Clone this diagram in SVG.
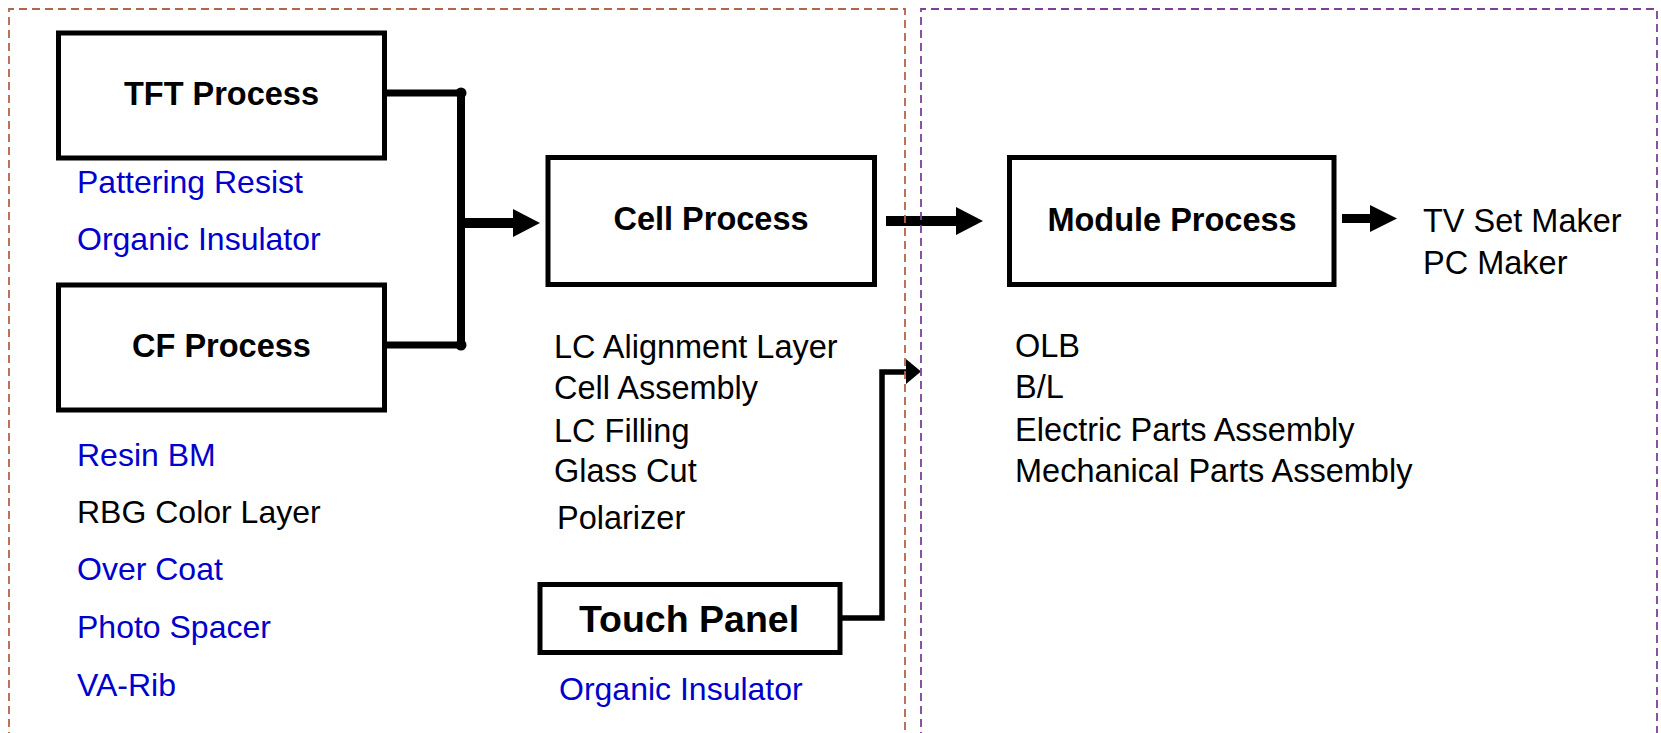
<svg xmlns="http://www.w3.org/2000/svg" width="1661" height="733" viewBox="0 0 1661 733">
  <style>
    .box { fill: #ffffff; stroke: #000000; stroke-width: 5; }
    .title { font-family: "Liberation Sans", Arial, sans-serif; font-weight: bold; font-size: 32.5px; fill: #000000; text-anchor: middle; }
    .big { font-size: 37.5px; }
    .item { font-family: "Liberation Sans", Arial, sans-serif; font-size: 32.5px; fill: #000000; }
    .side { font-size: 32px; }
    .blue { fill: #0000cc; }
    .wire { fill: none; stroke: #000000; stroke-linejoin: miter; }
    .head { fill: #000000; stroke: none; }
    .zone { fill: none; stroke-width: 1.8; stroke-dasharray: 8 5; }
  </style>

  <rect width="1661" height="733" fill="#ffffff"/>

  <!-- connectors -->
  <g id="connectors">
    <line class="wire" x1="387" y1="93" x2="461" y2="93" stroke-width="7"/>
    <line class="wire" x1="387" y1="345" x2="461" y2="345" stroke-width="7"/>
    <line class="wire" x1="461" y1="93" x2="461" y2="345" stroke-width="8"/>
    <circle class="head" cx="461" cy="93" r="5.5"/>
    <circle class="head" cx="461" cy="345" r="5.5"/>
    <line class="wire" x1="461" y1="223" x2="514" y2="223" stroke-width="10"/>
    <polygon class="head" points="513,209 540,223 513,237"/>

    <line class="wire" x1="886" y1="221" x2="957" y2="221" stroke-width="10"/>
    <polygon class="head" points="956,207 983,221 956,235"/>

    <line class="wire" x1="1342" y1="218.5" x2="1371" y2="218.5" stroke-width="9"/>
    <polygon class="head" points="1370,205 1397,218.5 1370,232"/>

    <polyline class="wire" points="842,618 882,618 882,372 907,372" stroke-width="5.5"/>
    <polygon class="head" points="906,359 921,371.5 906,384"/>
  </g>

  <g id="tft">
    <rect class="box" x="58.5" y="33" width="326" height="125"/>
    <text class="title" x="221.5" y="105">TFT Process</text>
    <text class="item side blue" x="77" y="193">Pattering Resist</text>
    <text class="item side blue" x="77" y="250">Organic Insulator</text>
  </g>

  <g id="cf">
    <rect class="box" x="58.5" y="285" width="326" height="125"/>
    <text class="title" x="221.5" y="357">CF Process</text>
    <text class="item side blue" x="77" y="466">Resin BM</text>
    <text class="item side" x="77" y="523">RBG Color Layer</text>
    <text class="item side blue" x="77" y="580">Over Coat</text>
    <text class="item side blue" x="77" y="638">Photo Spacer</text>
    <text class="item side blue" x="77" y="696">VA-Rib</text>
  </g>

  <g id="cell">
    <rect class="box" x="548" y="157.5" width="326.5" height="127"/>
    <text class="title" x="711" y="230">Cell Process</text>
    <text class="item" x="554" y="358">LC Alignment Layer</text>
    <text class="item" x="554" y="399">Cell Assembly</text>
    <text class="item" x="554" y="442">LC Filling</text>
    <text class="item" x="554" y="482">Glass Cut</text>
    <text class="item" x="557" y="529">Polarizer</text>
  </g>

  <g id="touch">
    <rect class="box" x="540" y="584.5" width="300" height="68" stroke-width="4.5"/>
    <text class="title big" x="689" y="632">Touch Panel</text>
    <text class="item side blue" x="559" y="700">Organic Insulator</text>
  </g>

  <g id="module">
    <rect class="box" x="1009.5" y="157.5" width="324.5" height="127"/>
    <text class="title" x="1172" y="231">Module Process</text>
    <text class="item" x="1015" y="357">OLB</text>
    <text class="item" x="1015" y="398">B/L</text>
    <text class="item" x="1015" y="441">Electric Parts Assembly</text>
    <text class="item" x="1015" y="482">Mechanical Parts Assembly</text>
  </g>

  <g id="customers">
    <text class="item" x="1423" y="232">TV Set Maker</text>
    <text class="item" x="1423" y="274">PC Maker</text>
  </g>

  <!-- dashed zone outlines, open at the bottom -->
  <g id="zones">
    <polyline class="zone" stroke="#b4644a" points="9,740 9,9 905,9 905,740"/>
    <polyline class="zone" stroke="#7f3f98" points="921,740 921,9 1657,9 1657,740"/>
  </g>
</svg>
